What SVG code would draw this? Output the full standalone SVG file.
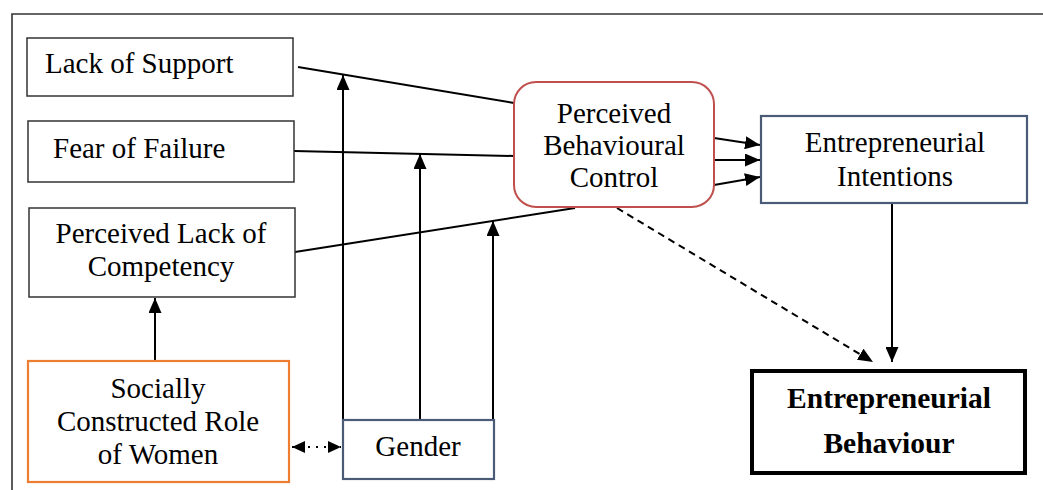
<svg xmlns="http://www.w3.org/2000/svg" width="1043" height="490" viewBox="0 0 1043 490">
<style>
  .t { font-family: "Liberation Serif", "Times New Roman", serif; font-size: 29px; fill: #000; }
  .tb { font-family: "Liberation Serif", "Times New Roman", serif; font-size: 29.5px; font-weight: bold; fill: #000; }
  .box { fill: #fff; stroke: #333; stroke-width: 1.5; }
  .slate { fill: #fff; stroke: #4a5b78; stroke-width: 2.2; }
  .ln { fill: none; stroke: #000; stroke-width: 2; }
</style>
<defs>
  <marker id="ah" markerUnits="userSpaceOnUse" markerWidth="16" markerHeight="13" refX="15" refY="6.5" orient="auto">
    <path d="M0,0 L15,6.5 L0,13 z" fill="#000" stroke="none"/>
  </marker>
  <marker id="ahs" markerUnits="userSpaceOnUse" markerWidth="14" markerHeight="12" refX="13" refY="6" orient="auto-start-reverse">
    <path d="M0,0 L13,6 L0,12 z" fill="#000" stroke="none"/>
  </marker>
</defs>
<rect width="1043" height="490" fill="#fff"/>
<path d="M12,490 V14 H1043" fill="none" stroke="#333" stroke-width="1.6"/>

<g id="connectors">
  <line class="ln" x1="298" y1="67" x2="514" y2="103"/>
  <line class="ln" x1="294" y1="151" x2="514" y2="156"/>
  <line class="ln" x1="295" y1="252" x2="575" y2="208"/>
  <line class="ln" x1="343" y1="420" x2="343" y2="75" marker-end="url(#ah)"/>
  <line class="ln" x1="420" y1="420" x2="420" y2="154" marker-end="url(#ah)"/>
  <line class="ln" x1="493" y1="420" x2="493" y2="221" marker-end="url(#ah)"/>
  <line class="ln" x1="155" y1="361" x2="155" y2="298" marker-end="url(#ah)"/>
  <line class="ln" x1="714" y1="138" x2="760" y2="145" marker-end="url(#ah)"/>
  <line class="ln" x1="714" y1="160" x2="760" y2="160" marker-end="url(#ah)"/>
  <line class="ln" x1="714" y1="185" x2="760" y2="177" marker-end="url(#ah)"/>
  <line class="ln" x1="892" y1="203" x2="892" y2="362" marker-end="url(#ah)"/>
  <line class="ln" x1="617" y1="208" x2="873" y2="362" stroke-dasharray="7,5" marker-end="url(#ah)"/>
  <line class="ln" x1="292" y1="447" x2="341" y2="447" stroke-dasharray="2,6" marker-start="url(#ahs)" marker-end="url(#ahs)"/>
</g>

<g id="lack-of-support">
  <rect class="box" x="27" y="38" width="266" height="58"/>
  <text class="t" x="45" y="73">Lack of Support</text>
</g>
<g id="fear-of-failure">
  <rect class="box" x="28" y="121" width="266" height="61"/>
  <text class="t" x="53" y="158">Fear of Failure</text>
</g>
<g id="perceived-lack-of-competency">
  <rect class="box" x="29" y="208" width="266" height="89"/>
  <text class="t" x="161" y="243" text-anchor="middle">Perceived Lack of</text>
  <text class="t" x="161" y="276" text-anchor="middle">Competency</text>
</g>
<g id="socially-constructed-role">
  <rect x="28" y="361" width="261" height="121" fill="#fff" stroke="#ed7d31" stroke-width="2.2"/>
  <text class="t" x="158" y="398" text-anchor="middle">Socially</text>
  <text class="t" x="158" y="431" text-anchor="middle">Constructed Role</text>
  <text class="t" x="158" y="464" text-anchor="middle">of Women</text>
</g>
<g id="gender">
  <rect class="slate" x="343" y="420" width="151" height="59"/>
  <text class="t" x="418" y="456" text-anchor="middle">Gender</text>
</g>
<g id="perceived-behavioural-control">
  <rect x="514" y="82" width="200" height="125" rx="22" ry="22" fill="#fff" stroke="#c0504d" stroke-width="2"/>
  <text class="t" x="614" y="123" text-anchor="middle">Perceived</text>
  <text class="t" x="614" y="155" text-anchor="middle">Behavioural</text>
  <text class="t" x="614" y="187" text-anchor="middle">Control</text>
</g>
<g id="entrepreneurial-intentions">
  <rect class="slate" x="761" y="116" width="266" height="87"/>
  <text class="t" x="895" y="152" text-anchor="middle">Entrepreneurial</text>
  <text class="t" x="895" y="186" text-anchor="middle">Intentions</text>
</g>
<g id="entrepreneurial-behaviour">
  <rect x="752" y="371" width="273" height="102" fill="#fff" stroke="#000" stroke-width="4"/>
  <text class="tb" x="889" y="408" text-anchor="middle">Entrepreneurial</text>
  <text class="tb" x="889" y="453" text-anchor="middle">Behaviour</text>
</g>
</svg>
